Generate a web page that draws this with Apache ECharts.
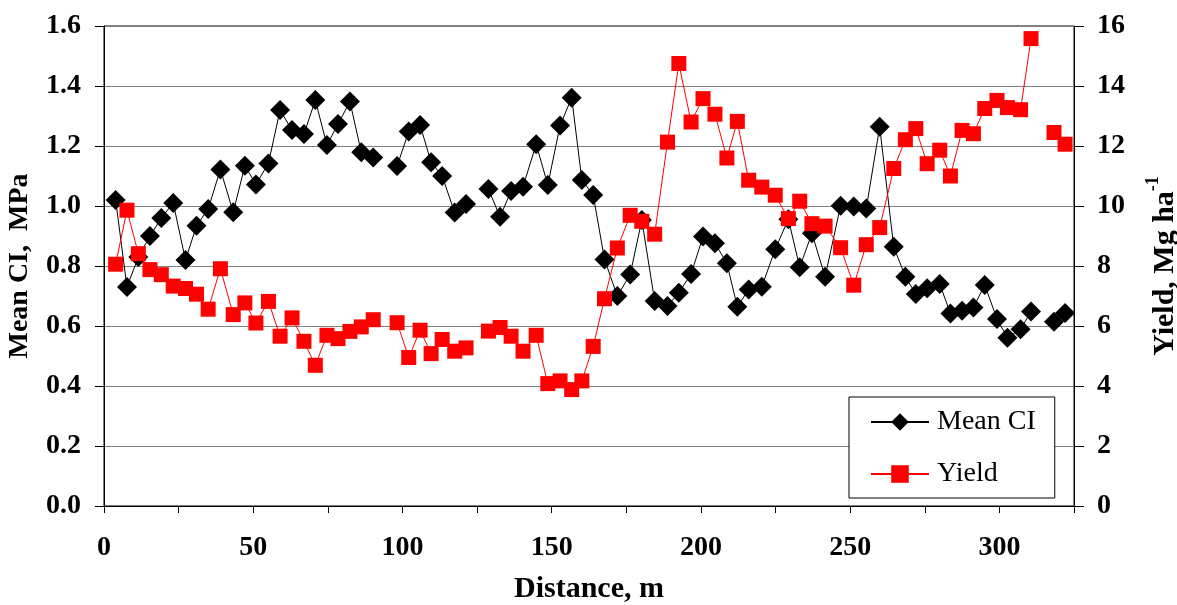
<!DOCTYPE html>
<html>
<head>
<meta charset="utf-8">
<title>Mean CI and Yield vs Distance</title>
<script src="https://cdn.jsdelivr.net/npm/echarts@6/dist/echarts.min.js"></script>
<style>
  html, body { margin: 0; padding: 0; background: #fff; }
  #chart { width: 1177px; height: 605px; }
</style>
</head>
<body>
<div id="chart"></div>
<script>
// Distance along the transect (m); null entries mark breaks in the record
const distance = [
  3.9, 7.7, 11.5, 15.4, 19.2, 23.2, 27.3, 31.0, 34.9, 39.0,
  43.3, 47.2, 50.9, 55.1, 59.0, 63.0, 67.0, 70.8, 74.7, 78.4,
  82.4, 86.2, 90.2, 94.0, 98.2, 102.1, 105.9, 109.6, 113.3, 117.5,
  121.3, 125.0, 128.8, 132.7, 136.4, 140.4, 144.8, 148.7, 152.8, 156.7,
  160.1, 163.9, 167.7, 172.0, 176.3, 180.2, 184.5, 188.8, 192.6, 196.7,
  200.7, 204.7, 208.7, 212.2, 216.0, 220.4, 224.9, 229.3, 233.1, 237.2,
  241.6, 246.8, 251.2, 255.4, 259.9, 264.6, 268.5, 272.0, 275.8, 280.0,
  283.6, 287.5, 291.3, 295.1, 299.2, 302.7, 307.1, 310.6, 314.0, 318.3,
  322.0
];

// Mean cone index (MPa)
const meanCI = [
  1.02, 0.73, 0.83, 0.90, 0.96, 1.01, 0.82, 0.934, 0.99, 1.122,
  0.979, 1.134, 1.072, 1.142, 1.32, 1.253, 1.24, 1.353, 1.203, 1.273,
  1.348, 1.179, 1.162, null, 1.133, 1.248, 1.27, 1.146, 1.10, 0.978,
  1.007, null, 1.057, 0.964, 1.05, 1.064, 1.206, 1.07, 1.268, 1.361,
  1.087, 1.037, 0.822, 0.70, 0.772, 0.953, 0.683, 0.667, 0.711, 0.773,
  0.898, 0.876, 0.809, 0.664, 0.722, 0.731, 0.856, 0.956, 0.796, 0.909,
  0.764, 1.001, 0.998, 0.992, 1.264, 0.864, 0.764, 0.707, 0.726, 0.74,
  0.642, 0.651, 0.662, 0.737, 0.623, 0.561, 0.589, 0.648, null, 0.614,
  0.643
];

// Grain yield (Mg ha-1)
const yieldMg = [
  8.06, 9.86, 8.41, 7.88, 7.71, 7.33, 7.25, 7.06, 6.56, 7.91,
  6.38, 6.77, 6.10, 6.82, 5.66, 6.27, 5.49, 4.69, 5.69, 5.58,
  5.82, 5.97, 6.21, null, 6.11, 4.95, 5.86, 5.08, 5.55, 5.16,
  5.27, null, 5.83, 5.95, 5.66, 5.16, 5.69, 4.08, 4.17, 3.88,
  4.17, 5.32, 6.91, 8.60, 9.69, 9.49, 9.06, 12.13, 14.75, 12.80,
  13.58, 13.06, 11.60, 12.82, 10.86, 10.63, 10.36, 9.58, 10.16, 9.41,
  9.33, 8.61, 7.36, 8.71, 9.28, 11.25, 12.21, 12.58, 11.41, 11.86,
  11.0, 12.52, 12.41, 13.25, 13.52, 13.28, 13.21, 15.58, null, 12.45,
  12.06
];

const seriesNames = ['Mean CI', 'Yield'];

const pairs = (vals) => distance.map((d, i) => [d, vals[i] === null ? '-' : vals[i]]);

const FONT = '"Liberation Serif", "Times New Roman", serif';
const tickFont = { fontFamily: FONT, fontWeight: 'bold', fontSize: 28, color: '#000' };

const chart = echarts.init(document.getElementById('chart'), null, { renderer: 'canvas' });

chart.setOption({
  animation: false,
  backgroundColor: '#fff',
  grid: {
    left: 104, right: 103, top: 26, bottom: 99,
    outerBoundsMode: 'none',
    containLabel: false,
    show: true, borderColor: '#000', borderWidth: 1, backgroundColor: 'transparent'
  },
  legend: {
    orient: 'vertical',
    left: 849, top: 397,
    padding: [11, 19, 10, 21],
    itemGap: 24,
    itemWidth: 58,
    itemHeight: 22,
    backgroundColor: '#fff',
    borderColor: '#000',
    borderWidth: 1,
    borderRadius: 0,
    textStyle: { fontFamily: FONT, fontSize: 28, color: '#000', padding: [0, 0, 0, 3] },
    data: seriesNames
  },
  xAxis: {
    type: 'value',
    min: 0, max: 325, interval: 25,
    name: 'Distance, m',
    nameLocation: 'middle',
    nameGap: 68,
    nameTextStyle: { fontFamily: FONT, fontWeight: 'bold', fontSize: 30, color: '#000' },
    axisLine: { show: true, lineStyle: { color: '#000', width: 1 } },
    axisTick: { show: true, length: 7, lineStyle: { color: '#000' } },
    axisLabel: Object.assign({}, tickFont, {
      margin: 28,
      formatter: (v) => (v % 50 === 0 ? String(v) : '')
    }),
    splitLine: { show: false }
  },
  yAxis: [
    {
      type: 'value',
      min: 0, max: 1.6, interval: 0.2,
      position: 'left',
      name: 'Mean CI,  MPa',
      nameLocation: 'middle',
      nameRotate: 90,
      nameGap: 70,
      nameTextStyle: { fontFamily: FONT, fontWeight: 'bold', fontSize: 28, color: '#000' },
      axisLine: { show: true, lineStyle: { color: '#000', width: 1 } },
      axisTick: { show: true, length: 9, lineStyle: { color: '#000' } },
      axisLabel: Object.assign({}, tickFont, {
        margin: 23,
        formatter: (v) => v.toFixed(1)
      }),
      splitLine: { show: true, lineStyle: { color: '#808080', width: 1 } }
    },
    {
      type: 'value',
      min: 0, max: 16, interval: 2,
      position: 'right',
      name: '{m|Yield, Mg ha}{s|-1}',
      nameLocation: 'middle',
      nameRotate: 90,
      nameGap: 70,
      nameTextStyle: {
        fontFamily: FONT, fontWeight: 'bold', fontSize: 30, color: '#000',
        rich: {
          m: { fontFamily: FONT, fontWeight: 'bold', fontSize: 30, color: '#000', lineHeight: 36, verticalAlign: 'bottom' },
          s: { fontFamily: FONT, fontWeight: 'bold', fontSize: 18, color: '#000', lineHeight: 36, verticalAlign: 'top' }
        }
      },
      axisLine: { show: true, lineStyle: { color: '#000', width: 1 } },
      axisTick: { show: true, length: 10, lineStyle: { color: '#000' } },
      axisLabel: Object.assign({}, tickFont, { margin: 23 }),
      splitLine: { show: false }
    }
  ],
  series: [
    {
      name: seriesNames[0],
      type: 'line',
      yAxisIndex: 0,
      data: pairs(meanCI),
      connectNulls: false,
      symbol: 'diamond',
      symbolSize: 20,
      showAllSymbol: true,
      lineStyle: { color: '#000', width: 1 },
      itemStyle: { color: '#000', borderWidth: 0 },
      emphasis: { disabled: true },
      z: 2
    },
    {
      name: seriesNames[1],
      type: 'line',
      yAxisIndex: 1,
      data: pairs(yieldMg),
      connectNulls: false,
      symbol: 'rect',
      symbolSize: 15,
      showAllSymbol: true,
      lineStyle: { color: '#ff0000', width: 1 },
      itemStyle: { color: '#ff0000', borderWidth: 0 },
      emphasis: { disabled: true },
      z: 3
    }
  ]
});
</script>
</body>
</html>
